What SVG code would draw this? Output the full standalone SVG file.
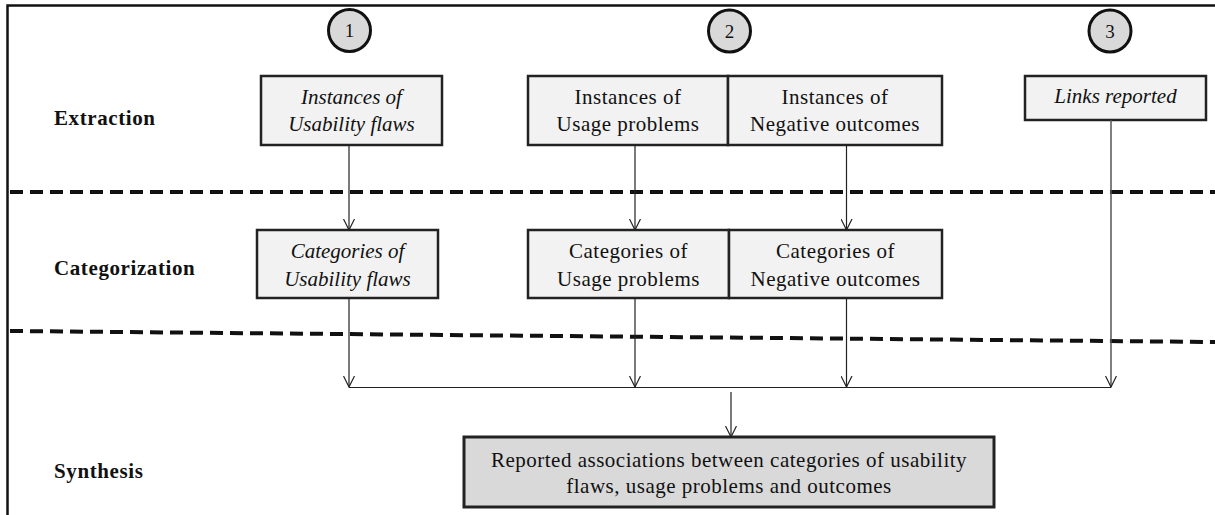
<svg xmlns="http://www.w3.org/2000/svg" width="1215" height="515" viewBox="0 0 1215 515">
<defs>
<marker id="arr" viewBox="0 0 12 12" refX="11.5" refY="6" markerWidth="12" markerHeight="12" markerUnits="userSpaceOnUse" orient="auto">
<path d="M0.5,0.5 L11.5,6 L0.5,11.5" fill="none" stroke="#222" stroke-width="1.2"/>
</marker>
</defs>
<style>
.box{fill:#f2f2f2;stroke:#222;stroke-width:2.5}
.syn{fill:#d9d9d9;stroke:#222;stroke-width:3}
.circ{fill:#d9d9d9;stroke:#111;stroke-width:3}
.t{font-family:"Liberation Serif","Times New Roman",serif;font-size:21px;fill:#111;text-anchor:middle;letter-spacing:0.5px}
.it{font-style:italic;letter-spacing:0px}
.lab{font-family:"Liberation Serif","Times New Roman",serif;font-size:21px;font-weight:bold;fill:#111;letter-spacing:0.6px}
.num{font-family:"Liberation Serif","Times New Roman",serif;font-size:19px;fill:#111;text-anchor:middle}
.dash{stroke:#111;stroke-width:4;stroke-dasharray:13 7;fill:none}
.frame{stroke:#111;stroke-width:2.5;fill:none}
.con{stroke:#222;stroke-width:1.2;fill:none}
.con2{stroke:#555;stroke-width:1.5;fill:none}
</style>
<rect width="1215" height="515" fill="#fff"/>
<g id="frame">
<path class="frame" d="M7.5,515 V5.5 H1215"/>
<path class="dash" d="M10,192 H1215"/>
<path class="dash" d="M10,331 L1215,342"/>
</g>
<g id="labels">
<text class="lab" x="54" y="125">Extraction</text>
<text class="lab" x="54" y="275">Categorization</text>
<text class="lab" x="54" y="478">Synthesis</text>
</g>
<g id="step1"><circle class="circ" cx="349.5" cy="30.5" r="21"/><text class="num" x="349.5" y="37">1</text></g>
<g id="step2"><circle class="circ" cx="729.5" cy="31" r="21"/><text class="num" x="729.5" y="37.5">2</text></g>
<g id="step3"><circle class="circ" cx="1110" cy="31" r="21"/><text class="num" x="1110" y="37.5">3</text></g>
<g id="inst-usability">
<rect class="box" x="261" y="76" width="181" height="69"/>
<text class="t it" x="351.5" y="104">Instances of</text>
<text class="t it" x="351.5" y="131">Usability flaws</text>
</g>
<g id="inst-usage">
<rect class="box" x="528" y="76" width="200" height="69"/>
<text class="t" x="628" y="104">Instances of</text>
<text class="t" x="628" y="131">Usage problems</text>
</g>
<g id="inst-negative">
<rect class="box" x="728" y="76" width="214" height="69"/>
<text class="t" x="835" y="104">Instances of</text>
<text class="t" x="835" y="131">Negative outcomes</text>
</g>
<g id="links">
<rect class="box" x="1025" y="76" width="181" height="44"/>
<text class="t it" x="1115.5" y="103">Links reported</text>
</g>
<g id="cat-usability">
<rect class="box" x="257" y="230" width="181" height="68"/>
<text class="t it" x="347.5" y="258">Categories of</text>
<text class="t it" x="347.5" y="286">Usability flaws</text>
</g>
<g id="cat-usage">
<rect class="box" x="528" y="230" width="201" height="68"/>
<text class="t" x="628.5" y="258">Categories of</text>
<text class="t" x="628.5" y="286">Usage problems</text>
</g>
<g id="cat-negative">
<rect class="box" x="729" y="230" width="213" height="68"/>
<text class="t" x="835.5" y="258">Categories of</text>
<text class="t" x="835.5" y="286">Negative outcomes</text>
</g>
<g id="synthesis">
<rect class="syn" x="464" y="437" width="530" height="70"/>
<text class="t" x="729" y="467">Reported associations between categories of usability</text>
<text class="t" x="729" y="493">flaws, usage problems and outcomes</text>
</g>
<g id="connectors">
<path class="con" d="M349,145 V230" marker-end="url(#arr)"/>
<path class="con" d="M349,298 V387" marker-end="url(#arr)"/>
<path class="con" d="M635,145 V230" marker-end="url(#arr)"/>
<path class="con" d="M635,298 V387" marker-end="url(#arr)"/>
<path class="con" d="M846.5,145 V230" marker-end="url(#arr)"/>
<path class="con" d="M846.5,298 V387" marker-end="url(#arr)"/>
<path class="con2" d="M1111,120 V387" marker-end="url(#arr)"/>
<path class="con" d="M349,387.5 H1111"/>
<path class="con" d="M731,392 V437" marker-end="url(#arr)"/>
</g>
</svg>
